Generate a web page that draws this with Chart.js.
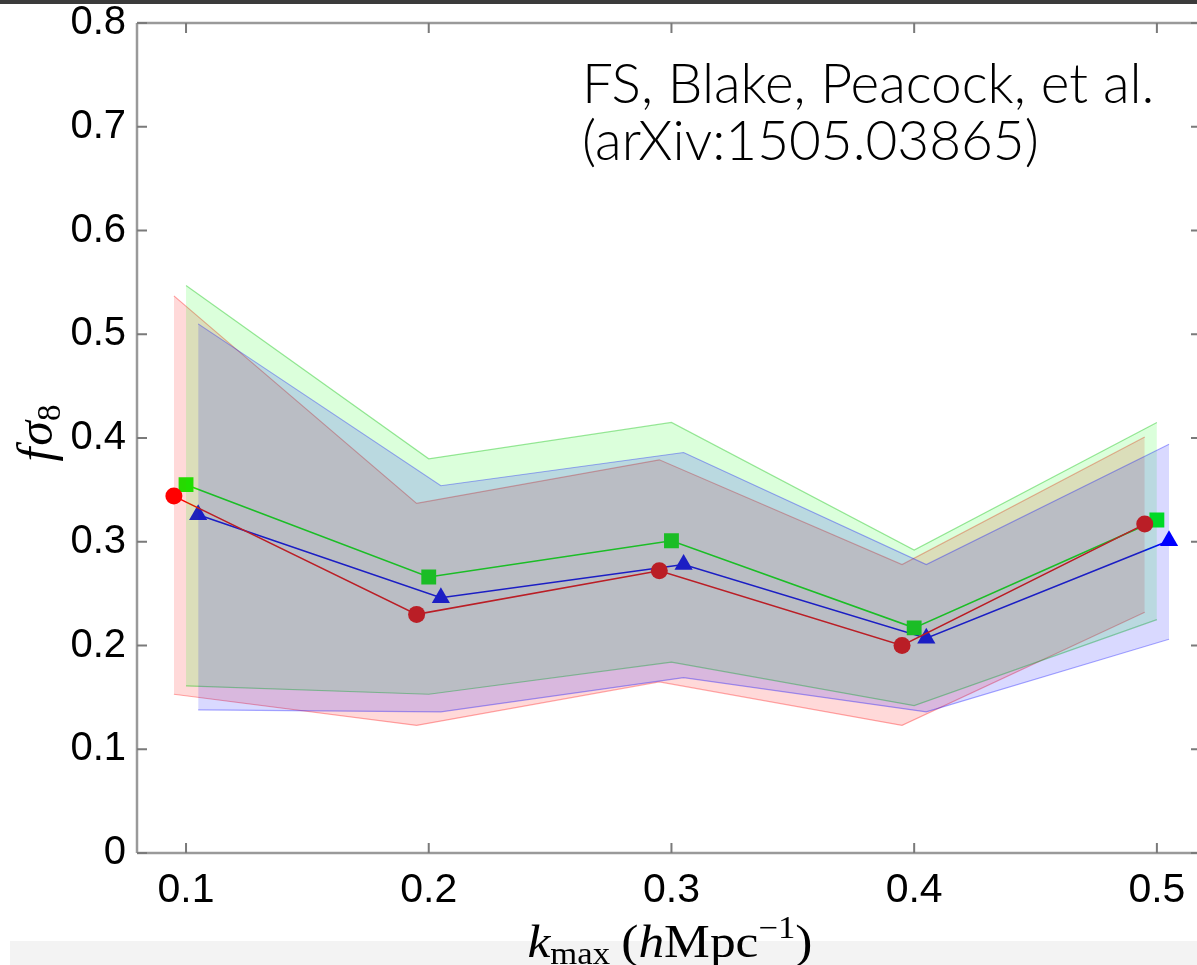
<!DOCTYPE html>
<html><head><meta charset="utf-8">
<script src="https://cdn.jsdelivr.net/npm/chart.js@4.4.1/dist/chart.umd.min.js"></script>
<style>html,body{margin:0;padding:0;background:#fff;overflow:hidden}canvas{display:block}</style>
</head><body>
<canvas id="c" width="1197" height="965"></canvas>
<script>
// ---- data ----
const kmax = [0.1, 0.2, 0.3, 0.4, 0.5];
const redVals   = [0.344, 0.230, 0.272, 0.200, 0.317];
const greenVals = [0.355, 0.266, 0.301, 0.217, 0.321];
const blueVals  = [0.326, 0.246, 0.278, 0.207, 0.301];
const redUpper   = [0.537, 0.337, 0.379, 0.278, 0.401];
const redLower   = [0.153, 0.123, 0.165, 0.123, 0.232];
const greenUpper = [0.547, 0.380, 0.415, 0.292, 0.415];
const greenLower = [0.161, 0.153, 0.184, 0.142, 0.225];
const blueUpper  = [0.510, 0.354, 0.386, 0.278, 0.394];
const blueLower  = [0.138, 0.136, 0.169, 0.136, 0.206];
const xTicks = [0.1, 0.2, 0.3, 0.4, 0.5];
const yTicks = [0, 0.1, 0.2, 0.3, 0.4, 0.5, 0.6, 0.7, 0.8];
const noteLines = ['FS, Blake, Peacock, et al.', '(arXiv:1505.03865)'];

// horizontal dodge of the three series around each k value
const DODGE = {red: -0.005, green: 0, blue: 0.005};
function pts(xs, ys, dx) { return xs.map((x, i) => ({x: x + dx, y: ys[i]})); }

const bandStyle = {pointRadius: 0, borderWidth: 1.2, showLine: true, tension: 0};
const markStyle = {showLine: true, borderWidth: 1.6, order: 10, tension: 0, fill: false};

const datasets = [
  // markers + connecting lines (drawn first, under the translucent bands)
  Object.assign({label: 'red', data: pts(kmax, redVals, DODGE.red), borderColor: '#ff0000',
    backgroundColor: '#ff0000', pointStyle: 'circle', pointRadius: 8.5, pointBorderWidth: 0}, markStyle),
  Object.assign({label: 'green', data: pts(kmax, greenVals, DODGE.green), borderColor: '#00ff00',
    backgroundColor: '#00ff00', pointStyle: 'rect', pointRadius: 10.5, pointBorderWidth: 0}, markStyle),
  Object.assign({label: 'blue', data: pts(kmax, blueVals, DODGE.blue), borderColor: '#0000ff',
    backgroundColor: '#0000ff', pointStyle: 'triangle', pointRadius: 10.5, pointBorderWidth: 0}, markStyle),
  // bands: red first, then green, then blue on top
  Object.assign({label: 'redLo', data: pts(kmax, redLower, DODGE.red), borderColor: 'rgba(255,0,0,0.33)', fill: false, order: 3}, bandStyle),
  Object.assign({label: 'redHi', data: pts(kmax, redUpper, DODGE.red), borderColor: 'rgba(255,0,0,0.33)',
    backgroundColor: 'rgba(255,0,0,0.15)', fill: '-1', order: 3}, bandStyle),
  Object.assign({label: 'greenLo', data: pts(kmax, greenLower, DODGE.green), borderColor: 'rgba(0,190,0,0.38)', fill: false, order: 2}, bandStyle),
  Object.assign({label: 'greenHi', data: pts(kmax, greenUpper, DODGE.green), borderColor: 'rgba(0,190,0,0.38)',
    backgroundColor: 'rgba(0,255,0,0.14)', fill: '-1', order: 2}, bandStyle),
  Object.assign({label: 'blueLo', data: pts(kmax, blueLower, DODGE.blue), borderColor: 'rgba(0,0,255,0.33)', fill: false, order: 1}, bandStyle),
  Object.assign({label: 'blueHi', data: pts(kmax, blueUpper, DODGE.blue), borderColor: 'rgba(0,0,255,0.33)',
    backgroundColor: 'rgba(0,0,255,0.15)', fill: '-1', order: 1}, bandStyle)
];

const framePlugin = {
  id: 'frame',
  beforeDraw(chart) {
    const ctx = chart.ctx;
    ctx.save();
    ctx.fillStyle = '#ffffff';
    ctx.fillRect(0, 0, chart.width, chart.height);
    ctx.fillStyle = '#3b3b3b';
    ctx.fillRect(0, 0, chart.width, 4);
    ctx.fillStyle = '#f3f3f3';
    ctx.fillRect(10, 941, chart.width - 10, chart.height - 941);
    ctx.restore();
  },
  afterDraw(chart) {
    const ctx = chart.ctx;
    const a = chart.chartArea;
    const xs = chart.scales.x, ys = chart.scales.y;
    const R = chart.width; // frame continues to the image edge
    ctx.save();
    ctx.strokeStyle = '#9a9a9a';
    ctx.lineWidth = 2.5;
    ctx.beginPath();
    ctx.moveTo(a.left, a.top); ctx.lineTo(a.left, a.bottom);
    ctx.moveTo(a.left, a.bottom); ctx.lineTo(R, a.bottom);
    ctx.moveTo(a.left, a.top); ctx.lineTo(R, a.top);
    ctx.stroke();
    ctx.strokeStyle = '#7a7a7a';
    ctx.lineWidth = 2;
    ctx.beginPath();
    yTicks.forEach(v => {
      const p = ys.getPixelForValue(v);
      ctx.moveTo(a.left, p); ctx.lineTo(a.left + 10, p);
      ctx.moveTo(R, p); ctx.lineTo(R - 6, p);
    });
    xTicks.forEach(v => {
      const p = xs.getPixelForValue(v);
      ctx.moveTo(p, a.bottom); ctx.lineTo(p, a.bottom - 10);
      ctx.moveTo(p, a.top); ctx.lineTo(p, a.top + 10);
    });
    ctx.stroke();

    // annotation
    ctx.fillStyle = '#000';
    ctx.textBaseline = 'alphabetic';
    ctx.textAlign = 'left';
    let fs = 40;
    ctx.font = '300 ' + fs + 'px Lato, "Open Sans", sans-serif';
    const w = ctx.measureText(noteLines[0]).width;
    fs = fs * 573 / w;
    ctx.font = '300 ' + fs.toFixed(1) + 'px Lato, "Open Sans", sans-serif';
    ctx.fillText(noteLines[0], 582, 103);
    ctx.fillText(noteLines[1], 582, 160);

    const serif = '"Liberation Serif", "DejaVu Serif", serif';
    function drawPieces(list, cx, baseY, targetW) {
      let tot = 0;
      list.forEach(p => { ctx.font = p.f; p.w = ctx.measureText(p.t).width + (p.gap || 0); tot += p.w; });
      const sx = targetW ? targetW / tot : 1;
      ctx.save();
      ctx.translate(cx - tot * sx / 2, baseY);
      ctx.scale(sx, 1);
      let x = 0;
      list.forEach(p => { ctx.font = p.f; ctx.fillText(p.t, x, p.dy); x += p.w; });
      ctx.restore();
    }
    // x title: k_max (h Mpc^-1)
    const big = 46, small = 31;
    drawPieces([
      {t: 'k', f: 'italic ' + big + 'px ' + serif, dy: 0},
      {t: 'max', f: small + 'px ' + serif, dy: 7, gap: 10},
      {t: '(', f: big + 'px ' + serif, dy: 0},
      {t: 'h', f: 'italic ' + big + 'px ' + serif, dy: 0},
      {t: 'Mpc', f: big + 'px ' + serif, dy: 0},
      {t: '\u22121', f: small + 'px ' + serif, dy: -19},
      {t: ')', f: big + 'px ' + serif, dy: 0}
    ], 670, 957, 285);

    // y title: f sigma_8
    ctx.save();
    ctx.translate(52, 433);
    ctx.rotate(-Math.PI / 2);
    drawPieces([
      {t: 'f', f: 'italic 50px ' + serif, dy: 0, gap: 2},
      {t: '\u03c3', f: 'italic 50px ' + serif, dy: 0},
      {t: '8', f: '33px ' + serif, dy: 8}
    ], 0, 0);
    ctx.restore();
    ctx.restore();
  }
};

new Chart(document.getElementById('c'), {
  type: 'scatter',
  data: {datasets},
  options: {
    responsive: false,
    animation: false,
    devicePixelRatio: 1,
    layout: {padding: {top: 23, left: 0, right: 0, bottom: 0}},
    plugins: {
      legend: {display: false},
      tooltip: {enabled: false},
      filler: {propagate: false, drawTime: 'beforeDatasetDraw'}
    },
    scales: {
      x: {
        type: 'linear', min: 0.0798, max: 0.5122,
        afterBuildTicks: s => { s.ticks = xTicks.map(v => ({value: v})); },
        afterFit: s => { s.height = 112; s.paddingLeft = 0; s.paddingRight = 0; },
        grid: {display: false, drawTicks: false},
        border: {display: false},
        ticks: {padding: 13, color: '#000', font: {family: '"Liberation Sans", Arial, sans-serif', size: 41},
          callback: v => v.toFixed(1), maxRotation: 0, autoSkip: false}
      },
      y: {
        type: 'linear', min: 0, max: 0.8,
        afterBuildTicks: s => { s.ticks = yTicks.map(v => ({value: v})); },
        afterFit: s => { s.width = 137; s.paddingTop = 0; s.paddingBottom = 0; },
        grid: {display: false, drawTicks: false},
        border: {display: false},
        ticks: {padding: 11, color: '#000', font: {family: '"Liberation Sans", Arial, sans-serif', size: 40},
          callback: v => (v === 0 ? '0' : v.toFixed(1)), autoSkip: false}
      }
    }
  },
  plugins: [framePlugin]
});
</script>
</body></html>
